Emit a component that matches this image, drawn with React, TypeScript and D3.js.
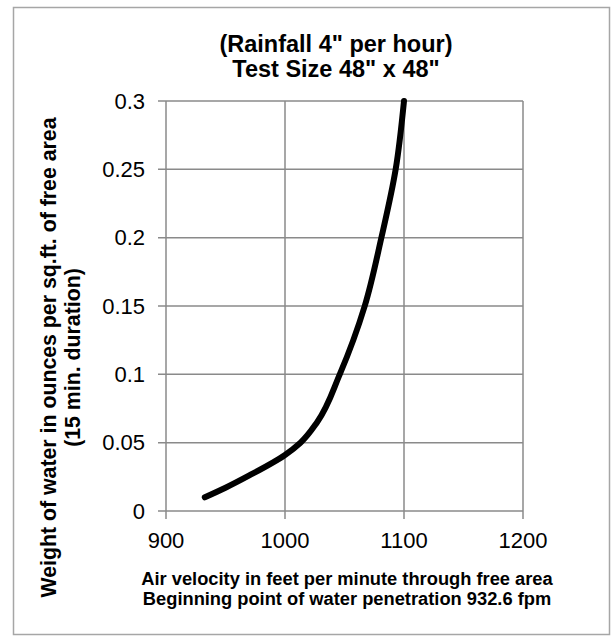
import React from "react";
import * as d3 from "d3";

// curve (fpm vs oz per sq.ft.)
const velocity = [932.6, 950, 970, 1000, 1013, 1027, 1046, 1067, 1081, 1093, 1100];
const water = [0.01, 0.017, 0.026, 0.041, 0.05, 0.065, 0.1, 0.15, 0.2, 0.25, 0.3];

const xTicks = [900, 1000, 1100, 1200];
const yTicks = [0, 0.05, 0.1, 0.15, 0.2, 0.25, 0.3];

const titleLines = ['(Rainfall 4" per hour)', 'Test Size 48" x 48"'];
const xTitleLines = [
  "Air velocity in feet per minute through free area",
  "Beginning point of water penetration 932.6 fpm",
];
const yTitleLines = [
  "Weight of water in ounces per sq.ft. of free area",
  "(15 min. duration)",
];

const W = 616;
const H = 638;
const PLOT = { left: 166, right: 523, top: 101, bottom: 511 };
const GRID = "#8a8a8a";
const FONT = "'Liberation Sans', Arial, sans-serif";

export default function App() {
  const x = d3.scaleLinear().domain([900, 1200]).range([PLOT.left, PLOT.right]);
  const y = d3.scaleLinear().domain([0, 0.3]).range([PLOT.bottom, PLOT.top]);

  const pts: [number, number][] = velocity.map((v, i) => [v, water[i]]);
  const line = d3
    .line<[number, number]>()
    .x((d) => x(d[0]))
    .y((d) => y(d[1]))
    .curve(d3.curveMonotoneY);

  const yMid = 357.5;

  return (
    <svg
      width={W}
      height={H}
      style={{ position: "absolute", left: 0, top: 0, background: "#fff" }}
      fontFamily={FONT}
    >
      <rect x={13.5} y={7.5} width={596} height={627} fill="#fff" stroke="#a6a6a6" strokeWidth={1.5} />

      {/* title */}
      {titleLines.map((t, i) => (
        <text key={t} x={336} y={52 + i * 25} textAnchor="middle" fontSize={23.5} fontWeight="bold">
          {t}
        </text>
      ))}

      {/* gridlines */}
      {yTicks.map((t) => (
        <line key={"gy" + t} x1={PLOT.left - 8} x2={PLOT.right} y1={y(t)} y2={y(t)} stroke={GRID} strokeWidth={1.5} />
      ))}
      {xTicks.map((t) => (
        <line key={"gx" + t} x1={x(t)} x2={x(t)} y1={PLOT.top} y2={PLOT.bottom + 8} stroke={GRID} strokeWidth={1.5} />
      ))}

      {/* tick labels */}
      {yTicks.map((t) => (
        <text key={"ly" + t} x={145} y={y(t) + 7.5} textAnchor="end" fontSize={22}>
          {String(t)}
        </text>
      ))}
      {xTicks.map((t) => (
        <text key={"lx" + t} x={x(t)} y={548} textAnchor="middle" fontSize={22}>
          {t}
        </text>
      ))}

      {/* curve */}
      <path d={line(pts) ?? ""} fill="none" stroke="#000" strokeWidth={6} strokeLinecap="round" />

      {/* axis titles */}
      {xTitleLines.map((t, i) => (
        <text key={t} x={347} y={585 + i * 20} textAnchor="middle" fontSize={18.3} fontWeight="bold">
          {t}
        </text>
      ))}
      {yTitleLines.map((t, i) => {
        const bx = 56 + i * 24;
        return (
          <text
            key={t}
            transform={`translate(${bx},${yMid}) rotate(-90)`}
            textAnchor="middle"
            fontSize={21.3}
            fontWeight="bold"
          >
            {t}
          </text>
        );
      })}
    </svg>
  );
}
